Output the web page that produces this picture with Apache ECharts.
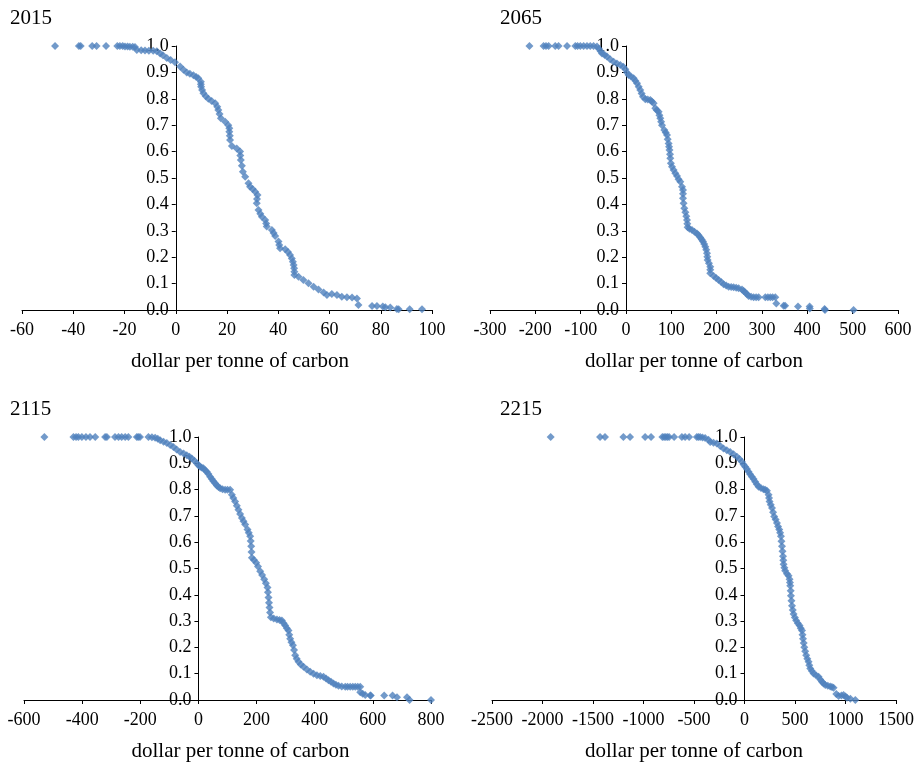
<!DOCTYPE html>
<html>
<head>
<meta charset="utf-8">
<script src="https://cdn.jsdelivr.net/npm/echarts@6/dist/echarts.min.js"></script>
<style>
html,body{margin:0;padding:0;background:#fff;}
#chart{width:919px;height:763px;}
</style>
</head>
<body>
<div id="chart"></div>
<script>
// ---- Data ----
const panelTitles = ["2015", "2065", "2115", "2215"];
const axisName = "dollar per tonne of carbon";

const x2015 = [-47.1,-37.8,-37.1,-32.6,-30.9,-27.2,-22.8,-21.8,-20.7,-19.8,-18.8,-17.9,-16.8,-15.9,-15.2,-13.5,-12,-10.5,-8.8,-7.4,-6.1,-5,-3.5,-2,-0.3,1.7,3,4.3,5.5,6.9,8,8.8,9.8,9.8,9.9,10.3,10.8,11.7,12.7,14,15.4,16.2,16.6,17.1,17.6,19.3,20.5,20.9,20.9,21.1,21.2,21.9,23.8,25.1,25.2,25.4,25.8,26.2,27.1,28.4,29,30,31,31.9,31.7,31.6,32.3,33,33.6,34.9,35.3,35.5,37.5,38.2,38.8,40.1,40.4,40.7,42.7,43.8,44.6,45.3,45.7,46,46.2,46.3,46.3,47.9,49.8,51.8,53.8,55.7,57.7,59,60.9,62.9,64.8,66.8,68.8,70.7,71.3,76.6,78.5,80.8,81.8,83.7,86.3,87,91.3,96.1];
const y2015 = [1,1,1,1,1,1,1,1,1,0.998,0.998,0.997,0.997,0.996,0.985,0.984,0.983,0.982,0.982,0.98,0.972,0.965,0.955,0.947,0.938,0.922,0.91,0.9,0.895,0.889,0.883,0.878,0.865,0.855,0.846,0.833,0.821,0.81,0.8,0.792,0.783,0.77,0.758,0.742,0.726,0.713,0.7,0.688,0.675,0.66,0.644,0.621,0.612,0.6,0.585,0.568,0.546,0.524,0.505,0.48,0.467,0.458,0.448,0.436,0.42,0.404,0.379,0.365,0.353,0.341,0.328,0.316,0.303,0.292,0.28,0.259,0.246,0.234,0.23,0.22,0.208,0.195,0.183,0.17,0.158,0.145,0.133,0.126,0.114,0.101,0.088,0.078,0.066,0.057,0.061,0.057,0.05,0.048,0.047,0.044,0.019,0.015,0.015,0.013,0.01,0.009,0.004,0.003,0.003,0.003];

const x2065 = [-213,-181.8,-176.5,-170.7,-156,-148.7,-130,-111.8,-106.8,-100.8,-93.5,-86,-78.8,-71.5,-64,-60,-56,-53,-47,-42,-35,-27.3,-20,-12.6,-6,-1.5,2,5.7,11,16.8,20.5,24.3,28,31.5,34.5,37.5,42.6,48,53.6,57,60.9,64.6,68,71.9,73.8,75.7,77.5,79.4,84.5,87.5,90.4,92,94,95,96,97,97.7,99,101.5,105,108.8,112.5,116,119.8,123.5,125.7,125.7,125.7,127,128.6,131,133,134.6,135.2,135.9,140,145.6,151,156.6,160,163.9,167,169.9,172.5,175,177,178.7,179.3,180,183,185.9,185.9,185.9,193.3,198.8,204.3,210,215.3,221,226.4,232,237.4,243,248.4,255.9,259.5,263.2,267,270.5,276,281.5,287,292.5,307.3,313,318.3,323.5,329.4,331.6,347.7,351,379.4,405,405.5,438,439,502];
const y2065 = [1,1,1,1,1,1,1,1,1,1,1,1,1,1,0.998,0.99,0.98,0.972,0.966,0.96,0.95,0.94,0.934,0.928,0.921,0.912,0.9,0.89,0.884,0.878,0.868,0.859,0.846,0.833,0.82,0.808,0.798,0.797,0.795,0.79,0.783,0.764,0.757,0.751,0.738,0.726,0.713,0.7,0.682,0.672,0.663,0.647,0.631,0.618,0.606,0.59,0.575,0.556,0.543,0.53,0.518,0.508,0.495,0.486,0.467,0.455,0.44,0.423,0.404,0.385,0.37,0.355,0.341,0.327,0.313,0.308,0.303,0.296,0.29,0.283,0.275,0.267,0.259,0.25,0.24,0.228,0.215,0.202,0.189,0.177,0.164,0.152,0.139,0.129,0.121,0.114,0.106,0.098,0.093,0.088,0.087,0.086,0.084,0.082,0.078,0.072,0.066,0.06,0.053,0.05,0.048,0.048,0.048,0.048,0.048,0.048,0.048,0.048,0.025,0.016,0.016,0.013,0.013,0.006,0.004,0.0,0.0];

const x2115 = [-530,-430,-421,-413,-401,-387,-373,-355,-321,-315,-287,-275,-264,-252,-241,-212,-207,-201,-172,-160,-149,-140,-131.5,-120,-108.8,-97,-86,-75,-63,-51,-40,-31,-22.7,-14,-5.5,0,5.9,11,17.2,23,28.8,34.5,40.3,46,51.5,57.5,63,69,74.7,83,91.9,100,109,115,120,126.3,132,137.7,143.5,149.4,155,160.8,168.7,173,178,179.7,181.4,182.5,183.8,191,198.6,205,212.4,219,226.2,232,237.5,239,241,242.7,244.4,246.5,249.2,259,270,279,287,293,298.5,304,309.8,312.5,315.7,320,325,329,332.9,338,344.2,352,361.4,373,384.5,396,407.6,419,430.3,439,447.5,456,464.7,473,481.9,493,505,513,522,531,539.4,548,556.6,556.6,565,573.8,591,592.7,639,667.8,683,717.4,726.3,800];
const y2115 = [1,1,1,1,1,1,1,1,1,1,1,1,1,1,1,1,1,1,1,0.999,0.997,0.993,0.988,0.982,0.977,0.97,0.962,0.952,0.943,0.937,0.931,0.925,0.918,0.91,0.9,0.893,0.887,0.884,0.881,0.874,0.868,0.859,0.849,0.84,0.832,0.824,0.816,0.81,0.805,0.801,0.799,0.799,0.799,0.78,0.768,0.755,0.739,0.723,0.707,0.692,0.68,0.667,0.648,0.636,0.623,0.605,0.585,0.563,0.541,0.532,0.522,0.508,0.49,0.475,0.459,0.444,0.428,0.41,0.39,0.37,0.352,0.333,0.315,0.31,0.306,0.304,0.302,0.292,0.283,0.273,0.264,0.248,0.233,0.22,0.208,0.19,0.17,0.157,0.145,0.135,0.126,0.116,0.107,0.1,0.094,0.091,0.088,0.082,0.075,0.069,0.063,0.058,0.054,0.051,0.05,0.05,0.05,0.05,0.05,0.05,0.05,0.029,0.024,0.019,0.017,0.017,0.017,0.017,0.01,0.01,0.0,0];

const x2215 = [-1919,-1430,-1381,-1199,-1133,-984,-925,-813,-796,-779,-763,-746,-697,-620,-588,-548,-472,-456,-439,-416,-390,-357,-340,-307,-274,-240,-208,-175,-142,-108,-75,-50,-26,-10,7,24,40,56,73,90,106,122,139,163,188,205,222,238,243,248,260,272,283,294,308,321,332,344,353,361,366,371,376,381,384,387,395,403,420,436,446,450,453,457,460,465,470,478,486,499,512,528,545,557,569,574,579,586,592,601,611,622,634,642,651,667,684,708,733,750,767,783,800,825,849,866,882,909,932,960,981,1000,1015,1048,1097];
const y2215 = [1,1,1,1,1,1,1,1,1,1,1,1,1,1,1,1,1,1,1,0.998,0.996,0.99,0.981,0.978,0.975,0.966,0.956,0.95,0.943,0.934,0.925,0.916,0.906,0.895,0.887,0.878,0.868,0.858,0.849,0.84,0.83,0.82,0.811,0.806,0.801,0.799,0.796,0.78,0.768,0.755,0.742,0.73,0.714,0.698,0.686,0.673,0.66,0.648,0.636,0.623,0.604,0.585,0.566,0.547,0.531,0.516,0.503,0.491,0.48,0.472,0.459,0.447,0.434,0.415,0.396,0.377,0.358,0.342,0.327,0.314,0.302,0.292,0.283,0.273,0.264,0.248,0.233,0.217,0.201,0.185,0.17,0.157,0.145,0.132,0.12,0.11,0.101,0.094,0.088,0.078,0.069,0.063,0.057,0.054,0.051,0.049,0.047,0.023,0.015,0.017,0.019,0.013,0.009,0.005,0];

const xMins = [-60, -300, -600, -2500];
const xMaxs = [100, 600, 800, 1500];
const xSteps = [20, 100, 200, 500];

// ---- Chart ----
const seriesX = [x2015, x2065, x2115, x2215];
const seriesY = [y2015, y2065, y2115, y2215];
const FONT = "'Liberation Serif', 'Times New Roman', serif";

const grids = [
  {left: 22, top: 46, width: 410, height: 264},
  {left: 490, top: 46, width: 408, height: 264},
  {left: 24, top: 437, width: 407, height: 265},
  {left: 492, top: 437, width: 404, height: 265}
];
const titlePos = [
  {left: 10, top: 8}, {left: 500, top: 8}, {left: 10, top: 399}, {left: 500, top: 399}
];
const namePad = [[0,0,0,26],[0,0,0,0],[0,0,0,26],[0,0,0,0]];

const option = {
  backgroundColor: '#fff',
  animation: false,
  title: panelTitles.map((t, i) => ({
    text: t, left: titlePos[i].left, top: titlePos[i].top, padding: 0,
    textStyle: {fontFamily: FONT, fontSize: 21, fontWeight: 'normal', color: '#000'}
  })),
  grid: grids.map(g => Object.assign({containLabel: false}, g)),
  xAxis: grids.map((g, i) => ({
    type: 'value', gridIndex: i, min: xMins[i], max: xMaxs[i], interval: xSteps[i],
    splitLine: {show: false},
    axisLine: {show: true, onZero: false, lineStyle: {color: '#000', width: 1}},
    axisTick: {show: true, inside: false, length: 4, lineStyle: {color: '#000'}},
    axisLabel: {fontFamily: FONT, fontSize: 18, color: '#000', margin: 11,
      showMinLabel: true, showMaxLabel: true, formatter: v => String(v)},
    name: axisName, nameLocation: 'middle', nameGap: 41,
    nameTextStyle: {fontFamily: FONT, fontSize: 21, color: '#000', padding: namePad[i]}
  })),
  yAxis: grids.map((g, i) => ({
    type: 'value', gridIndex: i, min: 0, max: 1, interval: 0.1,
    position: 'left',
    // place the y axis where x = 0 on the x axis
    offset: -g.width * (0 - xMins[i]) / (xMaxs[i] - xMins[i]),
    splitLine: {show: false},
    axisLine: {show: true, onZero: false, lineStyle: {color: '#000', width: 1}},
    axisTick: {show: true, inside: false, length: 4, lineStyle: {color: '#000'}},
    axisLabel: {fontFamily: FONT, fontSize: 18, color: '#000', margin: 7,
      showMinLabel: true, showMaxLabel: true,
      formatter: v => v.toFixed(1)}
  })),
  series: seriesX.map((xs, i) => ({
    type: 'scatter', xAxisIndex: i, yAxisIndex: i,
    symbol: 'diamond', symbolSize: 8,
    itemStyle: {color: '#4F81BD'},
    data: xs.map((x, j) => [x, seriesY[i][j]])
  }))
};

const chart = echarts.init(document.getElementById('chart'), null, {renderer: 'canvas'});
chart.setOption(option);
</script>
</body>
</html>
